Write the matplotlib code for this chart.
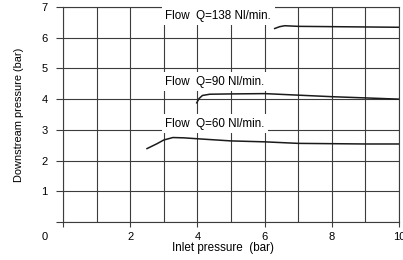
import matplotlib
matplotlib.use("Agg")
import matplotlib.pyplot as plt
from matplotlib.ticker import FixedLocator

plt.rcParams['font.family'] = ['Liberation Sans', 'DejaVu Sans']

# Data
q138_x = [6.3, 6.45, 6.6, 6.8, 7.0, 8.0, 9.0, 10.0]
q138_y = [6.30, 6.36, 6.39, 6.38, 6.37, 6.36, 6.35, 6.34]

q90_x = [3.98, 4.05, 4.15, 4.37, 5.0, 6.0, 7.0, 8.0, 9.0, 10.0]
q90_y = [3.88, 4.02, 4.12, 4.16, 4.17, 4.18, 4.13, 4.08, 4.04, 4.00]

q60_x = [2.5, 2.8, 3.0, 3.27, 3.6, 4.0, 5.0, 6.0, 7.0, 8.0, 9.0, 10.0]
q60_y = [2.39, 2.55, 2.67, 2.75, 2.74, 2.71, 2.64, 2.61, 2.56, 2.55, 2.54, 2.54]

labels = ["Flow  Q=138 Nl/min.", "Flow  Q=90 Nl/min.", "Flow  Q=60 Nl/min."]
label_pos = [(3.05, 6.72), (3.05, 4.56), (3.05, 3.2)]

x_major = [0, 2, 4, 6, 8, 10]
x_major_labels = ["", "2", "4", "6", "8", "10"]
x_minor = [1, 3, 5, 7, 9]
y_ticks = [0, 1, 2, 3, 4, 5, 6, 7]
y_tick_labels = ["", "1", "2", "3", "4", "5", "6", "7"]

xlabel = "Inlet pressure  (bar)"
ylabel = "Downstream pressure (bar)"

grid_color = "#3c3c3c"
line_color = "#1a1a1a"

fig = plt.figure(figsize=(4.03, 2.60), dpi=100)
ax = fig.add_axes([63/403, 38/260, 336/403, 215/260])

ax.set_xlim(0, 10)
ax.set_ylim(0, 7)

ax.xaxis.set_major_locator(FixedLocator(x_major))
ax.xaxis.set_minor_locator(FixedLocator(x_minor))
ax.set_xticklabels(x_major_labels)
ax.set_yticks(y_ticks)
ax.set_yticklabels(y_tick_labels)

ax.set_axisbelow(True)
ax.grid(True, which='both', color=grid_color, linewidth=0.8)

for s in ax.spines.values():
    s.set_color(grid_color)
    s.set_linewidth(0.8)

ax.tick_params(axis='x', which='major', direction='out', length=3.6, width=0.8,
               color=grid_color, pad=3.5, labelsize=8)
ax.tick_params(axis='x', which='minor', length=0)
ax.tick_params(axis='y', direction='out', length=5.0, width=0.8,
               color=grid_color, pad=6, labelsize=8)

ax.plot(q138_x, q138_y, color=line_color, lw=1.1, zorder=2)
ax.plot(q90_x, q90_y, color=line_color, lw=1.1, zorder=2)
ax.plot(q60_x, q60_y, color=line_color, lw=1.1, zorder=2)

for txt, (tx, ty) in zip(labels, label_pos):
    ax.text(tx, ty, txt, fontsize=8.4, ha='left', va='center', zorder=3,
            bbox=dict(facecolor='white', edgecolor='none', pad=2.5))

ax.set_xlabel(xlabel, fontsize=8.4)
ax.xaxis.set_label_coords(0.476, -0.095)
ax.set_ylabel(ylabel, fontsize=7.9)
ax.yaxis.set_label_coords(-0.115, 0.5)

fig.text(45/403, 1 - 237/260, "0", fontsize=8, ha='center', va='center')

fig.savefig("out.png", dpi=100)
